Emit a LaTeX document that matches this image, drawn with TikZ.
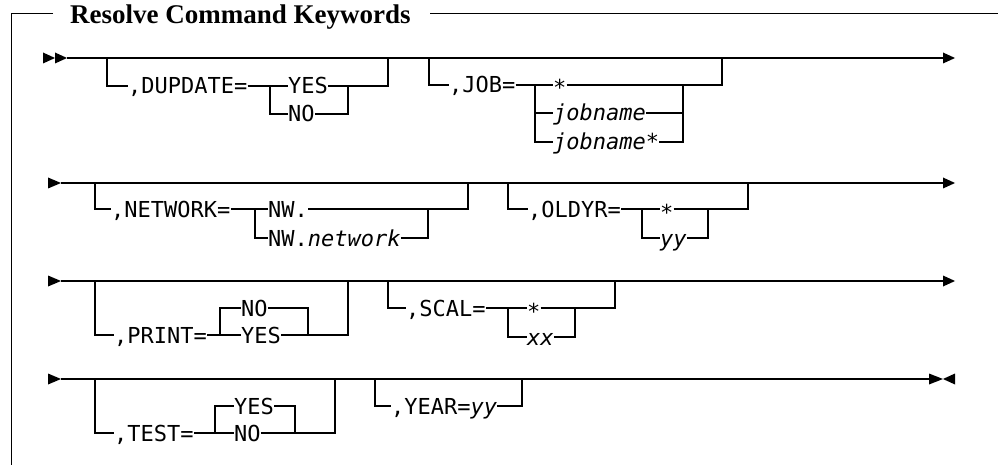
\documentclass[tikz,border=0pt]{standalone}
\usepackage{fontspec}
\setmainfont{Liberation Serif}
\newfontfamily\railfont{DejaVu Sans Mono}[ItalicFont={DejaVu Sans Mono Oblique}]
\usetikzlibrary{positioning}

\begin{document}
\begin{tikzpicture}[
  x=1pt, y=-1pt,
  rail/.style={draw, line width=1.1pt},
  frame/.style={draw, line width=1pt},
  kw/.style={font=\railfont\fontsize{22}{26}\selectfont, inner sep=0pt, anchor=west, text height=16pt, text depth=0pt},
  var/.style={kw, font=\railfont\itshape\fontsize{22}{26}\selectfont}
]
  \useasboundingbox (0,0) rectangle (998,465);

  % Frame and title
  \node[font=\bfseries\fontsize{27}{30}\selectfont, inner sep=0pt, anchor=base west] (title) at (70,23.5) {Resolve Command Keywords};
  \draw[frame] (53,14) -| (11,465);
  \draw[frame] (430,14) -- (998,14);

  % Main lines
  \coordinate (r1a) at (67,58);  \coordinate (r1b) at (943,58);
  \coordinate (r2a) at (61,183); \coordinate (r2b) at (943,183);
  \coordinate (r3a) at (61,281); \coordinate (r3b) at (943,281);
  \coordinate (r4a) at (61,379); \coordinate (r4b) at (929,379);
  \foreach \r in {1,2,3,4} \draw[rail] (r\r a) -- (r\r b);
  \fill (43,52.5) -- (55,58) -- (43,63.5) -- cycle;
  \fill (55,52.5) -- (67,58) -- (55,63.5) -- cycle;
  \foreach \ry in {183,281,379} \fill (48,\ry-5.5) -- (61,\ry) -- (48,\ry+5.5) -- cycle;
  \foreach \ry in {58,183,281} \fill (943,\ry-5.5) -- (955,\ry) -- (943,\ry+5.5) -- cycle;
  \fill (929,373.5) -- (943,379) -- (929,384.5) -- cycle;
  \fill (955,373.5) -- (943,379) -- (955,384.5) -- cycle;

  % DUPDATE
  \coordinate (dupIn) at (107,58);   \coordinate (dupOut) at (388,58);
  \coordinate (dupFork) at (270,86); \coordinate (dupJoin) at (348,86);
  \node[kw] (dupK) at (128,86) {,DUPDATE=};
  \node[kw] (dupYes) at (288,86) {YES};
  \node[kw] (dupNo) at (288,114) {NO};
  \draw[rail] (dupIn) |- (dupK.west);
  \draw[rail] (dupK.east) -- (dupYes.west);
  \draw[rail] (dupFork) |- (dupNo.west);
  \draw[rail] (dupYes.east) -| (dupOut);
  \draw[rail] (dupNo.east) -| (dupJoin);

  % JOB
  \coordinate (jobIn) at (429,58);   \coordinate (jobOut) at (722,58);
  \coordinate (jobFork) at (535,85); \coordinate (jobJoin) at (683,85);
  \node[kw] (jobK) at (449,85) {,JOB=};
  \node[kw] (jobStar) at (553,85) {\raisebox{-3pt}{*}};
  \node[var] (jobName) at (553,113) {jobname};
  \node[var] (jobNameStar) at (553,142) {jobname*};
  \draw[rail] (jobIn) |- (jobK.west);
  \draw[rail] (jobK.east) -- (jobStar.west);
  \draw[rail] (jobFork) |- (jobName.west);
  \draw[rail] (jobFork) |- (jobNameStar.west);
  \draw[rail] (jobStar.east) -| (jobOut);
  \draw[rail] (jobName.east) -| (jobJoin);
  \draw[rail] (jobNameStar.east) -| (jobJoin);

  % NETWORK
  \coordinate (netIn) at (95,183);    \coordinate (netOut) at (468,183);
  \coordinate (netFork) at (255,209); \coordinate (netJoin) at (428,209);
  \node[kw] (netK) at (111,209) {,NETWORK=};
  \node[kw] (netNW) at (268,209) {NW.};
  \node[kw] (netNWnet) at (268,238) {NW.\textit{network}};
  \draw[rail] (netIn) |- (netK.west);
  \draw[rail] (netK.east) -- (netNW.west);
  \draw[rail] (netFork) |- (netNWnet.west);
  \draw[rail] (netNW.east) -| (netOut);
  \draw[rail] (netNWnet.east) -| (netJoin);

  % OLDYR
  \coordinate (oldIn) at (508,183);   \coordinate (oldOut) at (748,183);
  \coordinate (oldFork) at (642,209); \coordinate (oldJoin) at (708,209);
  \node[kw] (oldK) at (528,209) {,OLDYR=};
  \node[kw] (oldStar) at (660,209) {\raisebox{-3pt}{*}};
  \node[var] (oldYY) at (660,238) {yy};
  \draw[rail] (oldIn) |- (oldK.west);
  \draw[rail] (oldK.east) -- (oldStar.west);
  \draw[rail] (oldFork) |- (oldYY.west);
  \draw[rail] (oldStar.east) -| (oldOut);
  \draw[rail] (oldYY.east) -| (oldJoin);

  % PRINT
  \coordinate (prtIn) at (95,281);    \coordinate (prtOut) at (348,281);
  \coordinate (prtFork) at (220,335); \coordinate (prtJoin) at (308,335);
  \node[kw] (prtK) at (114,335) {,PRINT=};
  \node[kw] (prtNo) at (241,308) {NO};
  \node[kw] (prtYes) at (241,335) {YES};
  \draw[rail] (prtIn) |- (prtK.west);
  \draw[rail] (prtK.east) -- (prtYes.west);
  \draw[rail] (prtFork) |- (prtNo.west);
  \draw[rail] (prtNo.east) -| (prtJoin);
  \draw[rail] (prtYes.east) -| (prtOut);

  % SCAL
  \coordinate (scalIn) at (388,281);   \coordinate (scalOut) at (615,281);
  \coordinate (scalFork) at (508,308); \coordinate (scalJoin) at (575,308);
  \node[kw] (scalK) at (406,308) {,SCAL=};
  \node[kw] (scalStar) at (527,308) {\raisebox{-3pt}{*}};
  \node[var] (scalXX) at (527,337) {xx};
  \draw[rail] (scalIn) |- (scalK.west);
  \draw[rail] (scalK.east) -- (scalStar.west);
  \draw[rail] (scalFork) |- (scalXX.west);
  \draw[rail] (scalStar.east) -| (scalOut);
  \draw[rail] (scalXX.east) -| (scalJoin);

  % TEST
  \coordinate (testIn) at (95,379);    \coordinate (testOut) at (335,379);
  \coordinate (testFork) at (215,433); \coordinate (testJoin) at (295,433);
  \node[kw] (testK) at (114,433) {,TEST=};
  \node[kw] (testYes) at (234,406) {YES};
  \node[kw] (testNo) at (234,433) {NO};
  \draw[rail] (testIn) |- (testK.west);
  \draw[rail] (testK.east) -- (testNo.west);
  \draw[rail] (testFork) |- (testYes.west);
  \draw[rail] (testYes.east) -| (testJoin);
  \draw[rail] (testNo.east) -| (testOut);

  % YEAR
  \coordinate (yearIn) at (375,379); \coordinate (yearOut) at (522,379);
  \node[kw] (yearK) at (391,406) {,YEAR=\textit{yy}};
  \draw[rail] (yearIn) |- (yearK.west);
  \draw[rail] (yearK.east) -| (yearOut);
\end{tikzpicture}
\end{document}
